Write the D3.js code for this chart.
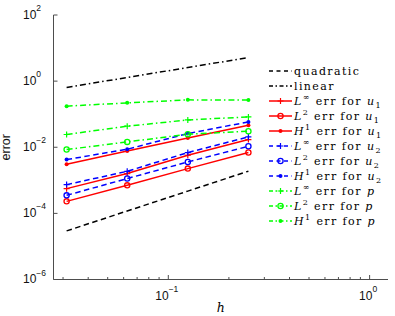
<!DOCTYPE html>
<html>
<head>
<meta charset="utf-8">
<script src="https://cdn.jsdelivr.net/npm/d3@7"></script>
<style>
    body { margin: 0; background: #fff; }
    svg { display: block; }
</style>
</head>
<body>
<svg class="main-chart" width="395" height="316"></svg>
<script>
// mesh sizes and error values
const hValues = [0.03125, 0.0625, 0.125, 0.25]
const quadratic = [2.95e-5, 1.18e-4, 4.72e-4, 1.89e-3]
const linear = [0.645, 1.29, 2.58, 5.16]
const linfU1 = [5.60e-4, 1.60e-3, 5.72e-3, 1.71e-2]
const l2U1 = [2.31e-4, 7.05e-4, 2.26e-3, 6.91e-3]
const h1U1 = [3.05e-3, 7.72e-3, 1.91e-2, 4.64e-2]
const linfU2 = [7.41e-4, 1.87e-3, 6.91e-3, 2.05e-2]
const l2U2 = [3.51e-4, 1.13e-3, 3.59e-3, 1.07e-2]
const h1U2 = [4.24e-3, 8.70e-3, 2.60e-2, 5.85e-2]
const linfP = [2.43e-2, 4.33e-2, 6.71e-2, 8.28e-2]
const l2P = [8.51e-3, 1.45e-2, 2.48e-2, 3.05e-2]
const h1P = [0.175, 0.220, 0.271, 0.268]

const xLimits = [0.0269, 1.234]
const yLimits = [1e-6, 1e2]
const xMajorTicks = [0.1, 1]
const xMinorTicks = [0.03, 0.04, 0.05, 0.06, 0.07, 0.08, 0.09, 0.2, 0.3, 0.4, 0.5, 0.6, 0.7, 0.8, 0.9]
const yTicks = [1e-6, 1e-4, 1e-2, 1, 1e2]
const xTickExps = ['\u22121', '0']
const yTickExps = ['\u22126', '\u22124', '\u22122', '0', '2']

// legend labels: [norm, superscript, variable, subscript] or plain text
const legendLabels = [
    'quadratic', 'linear',
    ['L', '\u221e', 'u', '1'], ['L', '2', 'u', '1'], ['H', '1', 'u', '1'],
    ['L', '\u221e', 'u', '2'], ['L', '2', 'u', '2'], ['H', '1', 'u', '2'],
    ['L', '\u221e', 'p', ''], ['L', '2', 'p', ''], ['H', '1', 'p', '']
]

const red = '#ff0000', blue = '#0000ff', green = '#00ff00'
const dashed = '5.5,3.5'
const dashDot = '6,3,1.5,3'
const series = [
    { values: quadratic, color: '#000', dash: dashed, marker: null },
    { values: linear, color: '#000', dash: dashDot, marker: null },
    { values: linfU1, color: red, dash: null, marker: 'plus' },
    { values: l2U1, color: red, dash: null, marker: 'circle' },
    { values: h1U1, color: red, dash: null, marker: 'dot' },
    { values: linfU2, color: blue, dash: dashed, marker: 'plus' },
    { values: l2U2, color: blue, dash: dashed, marker: 'circle' },
    { values: h1U2, color: blue, dash: dashed, marker: 'dot' },
    { values: linfP, color: green, dash: dashDot, marker: 'plus' },
    { values: l2P, color: green, dash: dashDot, marker: 'circle' },
    { values: h1P, color: green, dash: dashDot, marker: 'dot' }
]

const svg = d3.select('.main-chart')
const plotLeft = 53.5, plotRight = 388, plotTop = 15, plotBottom = 279.5
const axisColor = '#4d4d4d'

const xScale = d3.scaleLog().domain(xLimits).range([plotLeft, plotRight])
const yScale = d3.scaleLog().domain(yLimits).range([plotBottom, plotTop])

// axis lines (box off)
svg.append('line')
    .attr('x1', plotLeft).attr('x2', plotLeft).attr('y1', plotTop).attr('y2', plotBottom)
    .attr('stroke', axisColor).attr('stroke-width', 1)
svg.append('line')
    .attr('x1', plotLeft).attr('x2', plotRight).attr('y1', plotBottom).attr('y2', plotBottom)
    .attr('stroke', axisColor).attr('stroke-width', 1)

// y ticks
svg.selectAll('line.ytick')
    .data(yTicks)
    .enter().append('line')
    .attr('class', 'ytick')
    .attr('x1', plotLeft).attr('x2', plotLeft + 4)
    .attr('y1', d => yScale(d)).attr('y2', d => yScale(d))
    .attr('stroke', axisColor)

const yLabels = svg.selectAll('text.ylabel')
    .data(yTicks)
    .enter().append('text')
    .attr('class', 'ylabel')
    .attr('x', 23)
    .attr('y', d => yScale(d) + 3.5)
    .style('font-family', 'Liberation Sans, Arial, sans-serif')
    .style('font-size', '12px')
    .attr('fill', '#111')
yLabels.append('tspan').text('10')
yLabels.append('tspan')
    .attr('dy', -7.5)
    .style('font-size', '8.5px')
    .text((d, i) => yTickExps[i])

// x ticks
svg.selectAll('line.xminor')
    .data(xMinorTicks)
    .enter().append('line')
    .attr('class', 'xminor')
    .attr('x1', d => xScale(d)).attr('x2', d => xScale(d))
    .attr('y1', plotBottom).attr('y2', plotBottom - 2.5)
    .attr('stroke', axisColor)
svg.selectAll('line.xmajor')
    .data(xMajorTicks)
    .enter().append('line')
    .attr('class', 'xmajor')
    .attr('x1', d => xScale(d)).attr('x2', d => xScale(d))
    .attr('y1', plotBottom).attr('y2', plotBottom - 4.5)
    .attr('stroke', axisColor)

const xLabels = svg.selectAll('text.xlabel')
    .data(xMajorTicks)
    .enter().append('text')
    .attr('class', 'xlabel')
    .attr('x', d => xScale(d) - 1.5)
    .attr('y', 300)
    .attr('text-anchor', 'middle')
    .style('font-family', 'Liberation Sans, Arial, sans-serif')
    .style('font-size', '12px')
    .attr('fill', '#111')
xLabels.append('tspan').text('10')
xLabels.append('tspan')
    .attr('dy', -8)
    .style('font-size', '8.5px')
    .text((d, i) => xTickExps[i])

// axis titles
svg.append('text')
    .attr('transform', 'translate(9.5,' + ((plotTop + plotBottom) / 2) + ') rotate(-90)')
    .attr('text-anchor', 'middle')
    .style('font-family', 'Liberation Sans, Arial, sans-serif')
    .style('font-size', '12.5px')
    .attr('fill', '#111')
    .text('error')
svg.append('text')
    .attr('x', (plotLeft + plotRight) / 2)
    .attr('y', 312)
    .attr('text-anchor', 'middle')
    .style('font-family', 'DejaVu Serif, serif')
    .style('font-style', 'italic')
    .style('font-size', '12.5px')
    .text('h')

// markers
const drawMarker = (g, kind, color, x, y) => {
    if (kind === 'plus') {
        g.append('path')
            .attr('d', `M${x - 3},${y}H${x + 3}M${x},${y - 3}V${y + 3}`)
            .attr('stroke', color).attr('stroke-width', 1.2).attr('fill', 'none')
    } else if (kind === 'circle') {
        g.append('circle')
            .attr('cx', x).attr('cy', y).attr('r', 2.6)
            .attr('stroke', color).attr('stroke-width', 1.3).attr('fill', 'none')
    } else if (kind === 'dot') {
        g.append('circle')
            .attr('cx', x).attr('cy', y).attr('r', 2)
            .attr('fill', color)
    }
}

const line = d3.line()
    .x((d, i) => xScale(hValues[i]))
    .y(d => yScale(d))

series.forEach(s => {
    const g = svg.append('g')
    g.append('path')
        .datum(s.values)
        .attr('d', line)
        .attr('fill', 'none')
        .attr('stroke', s.color)
        .attr('stroke-width', 1.5)
        .attr('stroke-dasharray', s.dash)
    if (s.marker) {
        s.values.forEach((v, i) => drawMarker(g, s.marker, s.color, xScale(hValues[i]), yScale(v)))
    }
})

// legend
const legendX = 269, legendY = 71, legendStep = 15
series.forEach((s, i) => {
    const y = legendY + i * legendStep
    const g = svg.append('g')
    g.append('line')
        .attr('x1', legendX).attr('x2', legendX + 23)
        .attr('y1', y).attr('y2', y)
        .attr('stroke', s.color)
        .attr('stroke-width', 1.5)
        .attr('stroke-dasharray', s.dash ? (s.dash === dashed ? '4,3.5' : '4,2.5,1.5,2.5') : null)
    if (s.marker) drawMarker(g, s.marker, s.color, legendX + 11.5, y)

    const label = legendLabels[i]
    const t = g.append('text')
        .attr('x', legendX + 25)
        .attr('y', y + 4)
        .style('font-family', 'DejaVu Serif, serif')
        .style('font-size', '11px')
        .style('letter-spacing', '1.4px')
        .attr('fill', '#000')
    if (typeof label === 'string') {
        t.text(label)
    } else {
        t.append('tspan').style('font-style', 'italic').text(label[0])
        t.append('tspan').attr('dy', -5).style('font-size', '8px').text(label[1])
        t.append('tspan').attr('dy', 5).text(' err for ')
        t.append('tspan').style('font-style', 'italic').text(label[2])
        if (label[3]) t.append('tspan').attr('dy', 2.5).style('font-size', '8px').text(label[3])
    }
})
</script>
</body>
</html>
